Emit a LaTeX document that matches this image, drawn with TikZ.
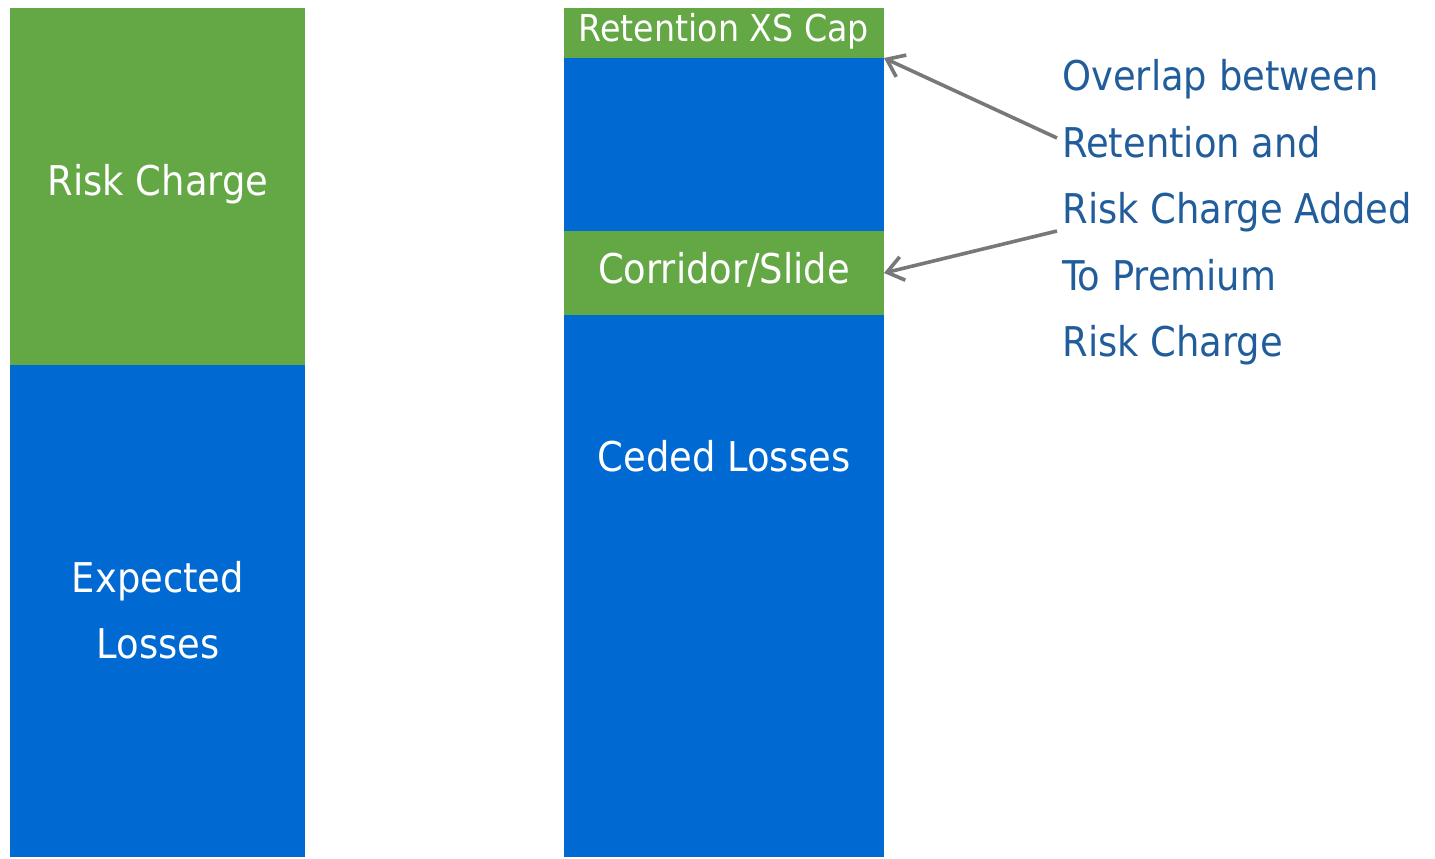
\documentclass[tikz,border=0pt]{standalone}
\usepackage{fontspec}
\setmainfont{DejaVu Sans Condensed}
\usetikzlibrary{arrows.meta}
\definecolor{rcgreen}{RGB}{100,167,69}
\definecolor{lossblue}{RGB}{0,105,210}
\definecolor{notetext}{RGB}{33,92,155}
\definecolor{arrowgray}{RGB}{120,120,120}
\tikzset{
  block/.style={anchor=north west, inner sep=0pt, outer sep=0pt},
  greenblock/.style={block, fill=rcgreen},
  blueblock/.style={block, fill=lossblue},
  blocktext/.style={text=white, font=\fontsize{20.5}{33.25}\selectfont, align=center, inner sep=0pt},
  notearrow/.style={draw=arrowgray, line width=1.8pt, -{Straight Barb[length=8pt, width=12pt, line width=1.8pt]}}
}
\begin{document}
\begin{tikzpicture}[x=0.5pt, y=-0.5pt]
\useasboundingbox (0,0) rectangle (1435,858);
% left column
\node[greenblock, minimum width=147.5pt, minimum height=178.5pt] (riskcharge) at (10,8) {};
\node[blueblock, minimum width=147.5pt, minimum height=246pt] (expected) at (10,365) {};
\node[blocktext] (rctext) at (158,184) {Risk Charge};
\node[blocktext] (eltext) at (158,610) {Expected\\Losses};
% right column
\node[greenblock, minimum width=160pt, minimum height=25pt] (retention) at (564,8) {};
\node[blueblock, minimum width=160pt, minimum height=86.5pt] (overlap) at (564,58) {};
\node[greenblock, minimum width=160pt, minimum height=42pt] (corridor) at (564,231) {};
\node[blueblock, minimum width=160pt, minimum height=271pt] (ceded) at (564,315) {};
\node[blocktext, font=\fontsize{18.5}{20}\selectfont] (rettext) at (724,31) {Retention XS Cap};
\node[blocktext] (cortext) at (724,270) {Corridor/Slide};
\node[blocktext] (cedtext) at (724,456) {Ceded Losses};
% notes
\node[anchor=north west, inner sep=0pt, align=left, text=notetext,
  font=\fontsize{20.5}{33.25}\selectfont] (note) at (1062,59)
  {Overlap between\\Retention and\\Risk Charge Added\\To Premium\\Risk Charge};
\coordinate (from1) at (1057,138);
\coordinate (from2) at (1057,231);
\draw[notearrow] (from1) -- (retention.south east);
\draw[notearrow] (from2) -- (corridor.east);
\end{tikzpicture}
\end{document}
